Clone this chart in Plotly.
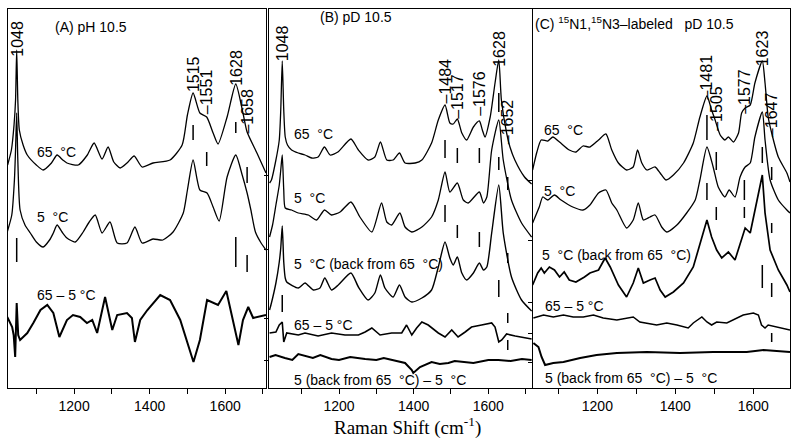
import plotly.graph_objects as go

# ---------------- Panel A : pH 10.5 ----------------
A65_x = [1024,1034,1041,1045,1048,1051,1055,1065,1076,1100,1118,1140,1155,1170,1181,1211,1235,1253,1274,1290,1305,1322,1340,1359,1380,1409,1454,1486,1500,1515,1533,1551,1568,1581,1605,1628,1647,1658,1684,1708]
A65_y = [223,238,263,288,338,288,258,243,233,223,218,225,233,228,225,223,233,245,229,241,226,220,225,232,221,225,228,243,273,295,275,271,255,244,271,304,275,256,235,215]

A5_x = [1023,1035,1042,1045,1048,1051,1057,1070,1084,1100,1118,1135,1145,1155,1168,1181,1203,1224,1240,1256,1274,1295,1314,1340,1361,1380,1409,1435,1462,1489,1500,1515,1533,1552,1568,1584,1605,1628,1645,1658,1668,1680,1695,1708]
A5_y = [156,173,208,238,275,228,178,163,155,146,141,148,155,163,156,150,146,156,166,173,155,166,145,145,161,145,149,148,156,175,198,228,198,195,181,167,211,233,213,195,178,156,145,138]

Adiff_x = [1023,1036,1040,1044,1048,1052,1057,1076,1092,1111,1129,1145,1161,1181,1197,1216,1234,1248,1261,1282,1301,1314,1340,1353,1361,1375,1394,1428,1454,1481,1516,1533,1552,1568,1581,1603,1619,1635,1647,1661,1674,1708]
Adiff_y = [71,61,53,31,85,53,48,55,65,78,83,75,51,68,73,71,65,68,55,91,58,73,75,70,46,68,78,93,88,68,26,48,88,85,83,97,71,43,68,81,70,73]

# ---------------- Panel B : pD 10.5 ----------------
B65_x = [1014,1019,1031,1040,1044,1048,1052,1056,1062,1073,1091,1109,1127,1144,1161,1176,1197,1232,1252,1278,1296,1311,1328,1345,1362,1377,1404,1422,1448,1466,1484,1497,1506,1517,1529,1542,1560,1576,1584,1591,1605,1618,1628,1635,1649,1658,1671,1697,1716]
B65_y = [205,208,228,248,278,327,278,251,243,238,235,233,230,231,241,233,236,249,238,228,231,246,228,228,235,225,225,228,245,268,283,265,264,269,255,248,261,267,258,251,271,305,328,288,255,241,228,211,204]

B5_x = [1014,1022,1031,1040,1044,1048,1052,1056,1073,1091,1118,1140,1161,1180,1203,1232,1256,1288,1314,1328,1341,1363,1377,1395,1422,1448,1466,1484,1497,1517,1533,1546,1576,1587,1596,1609,1628,1640,1662,1689,1716]
B5_y = [151,163,183,203,218,233,198,180,178,175,173,168,178,173,176,186,171,156,185,166,163,175,161,156,161,171,188,216,196,205,188,185,196,185,191,238,268,228,188,165,151]

B5b_x = [1014,1019,1031,1040,1044,1048,1052,1056,1060,1091,1109,1131,1149,1162,1180,1198,1232,1252,1278,1296,1311,1323,1345,1362,1377,1395,1422,1448,1466,1484,1497,1506,1517,1529,1542,1560,1576,1587,1596,1609,1628,1640,1662,1689,1716]
B5b_y = [78,85,105,126,140,162,126,110,106,100,105,98,100,110,98,103,115,101,88,95,113,100,91,103,91,86,90,98,121,146,130,123,131,115,108,115,125,118,121,155,203,155,111,88,77]

Bdiff_x = [1014,1031,1040,1048,1052,1060,1091,1109,1144,1180,1216,1252,1270,1288,1310,1341,1368,1381,1395,1408,1422,1439,1466,1484,1502,1519,1538,1555,1582,1609,1618,1628,1636,1649,1672,1716]
Bdiff_y = [55,56,63,66,46,55,53,55,52,55,53,53,56,60,53,55,55,63,53,60,66,63,55,51,58,51,56,61,63,65,61,46,48,54,52,49]

Bdiff2_x = [1014,1030,1055,1075,1091,1109,1130,1150,1180,1200,1230,1270,1300,1320,1341,1377,1395,1399,1417,1448,1470,1493,1510,1538,1560,1600,1627,1660,1690,1716]
Bdiff2_y = [31,33,30,28,34,32,30,33,29,28,31,29,28,30,28,25,18,15,21,26,24,25,27,26,25,28,28,27,29,28]

# ---------------- Panel C : 15N1,15N3-labeled pD 10.5 ----------------
C65_x = [1034,1045,1056,1073,1086,1103,1128,1145,1163,1181,1203,1222,1237,1254,1275,1292,1303,1314,1327,1348,1361,1376,1395,1421,1446,1463,1481,1493,1502,1515,1527,1536,1549,1562,1570,1579,1592,1604,1623,1630,1638,1647,1664,1686,1694]
C65_y = [218,236,248,247,251,246,238,236,242,241,248,254,238,225,218,221,238,225,218,221,215,208,213,225,245,271,292,278,268,253,248,251,246,255,275,280,283,305,327,305,271,255,231,215,206]

C5_x = [1034,1051,1060,1073,1090,1107,1137,1163,1181,1203,1222,1237,1250,1275,1292,1305,1318,1335,1348,1365,1378,1404,1429,1451,1463,1481,1497,1510,1527,1538,1553,1566,1579,1592,1604,1623,1630,1643,1664,1686,1694]
C5_y = [165,181,191,188,193,188,181,178,183,195,198,185,178,160,168,185,168,171,173,161,156,163,175,188,208,241,221,201,191,198,191,211,221,225,251,276,248,208,188,178,175]

C5b_x = [1034,1047,1056,1064,1077,1090,1103,1115,1128,1145,1167,1181,1203,1220,1233,1254,1275,1292,1305,1318,1335,1348,1361,1374,1395,1421,1446,1463,1481,1493,1506,1519,1536,1553,1566,1579,1592,1604,1623,1630,1643,1664,1686,1694]
C5b_y = [103,115,120,115,121,118,111,116,108,106,111,115,118,130,121,103,91,105,120,105,108,110,98,91,96,105,121,145,168,151,138,130,136,128,145,160,155,178,213,175,138,118,103,96]

Cdiff_x = [1036,1062,1087,1113,1138,1164,1190,1215,1250,1292,1309,1327,1352,1378,1404,1433,1446,1468,1481,1493,1506,1532,1557,1574,1600,1613,1621,1630,1638,1660,1694]
Cdiff_y = [70,73,71,73,71,71,73,70,68,71,66,65,63,65,63,60,65,71,66,63,66,65,70,73,75,73,63,60,63,61,58]

Cdiff2_x = [1036,1049,1057,1066,1087,1113,1156,1198,1250,1327,1412,1497,1583,1626,1694]
Cdiff2_y = [45,41,31,23,25,26,30,33,35,36,35,36,36,38,36]

# ---------------- peak labels and marker bars ----------------
A_lab = ["1048", "1515", "\u20131551", "1628", "\u20131658"]
A_lab_x = [1048, 1515, 1551, 1628, 1658]
A_lab_y = [329, 294, 272, 300, 252]
A_bar_x = [1515, 1551, 1628, 1658, 1048, 1628, 1658]
A_bar_lo = [248, 222, 255, 205, 126, 121, 116]
A_bar_hi = [263, 236, 266, 221, 150, 151, 133]

B_lab = ["1048", "\u20131484", "\u20131517", "\u20131576", "1628", "\u20131652"]
B_lab_x = [1048, 1484, 1517, 1576, 1628, 1652]
B_lab_y = [325, 282, 267, 270, 319, 242]
B_bar_x = [1048, 1484, 1484, 1517, 1517, 1576, 1576, 1628, 1628, 1628, 1652, 1652, 1652, 1652]
B_bar_lo = [76, 230, 166, 225, 150, 225, 141, 276, 218, 91, 198, 125, 65, 38]
B_bar_hi = [93, 248, 183, 240, 163, 240, 156, 295, 231, 108, 211, 135, 75, 48]

C_lab = ["\u20131481", "\u20131505", "\u20131577", "1623", "\u20131647"]
C_lab_x = [1481, 1505, 1577, 1623, 1647]
C_lab_y = [287, 255, 272, 320, 249]
C_bar_x = [1481, 1481, 1505, 1505, 1577, 1577, 1623, 1623, 1647, 1647, 1647, 1647]
C_bar_lo = [248, 188, 218, 168, 188, 170, 225, 100, 208, 155, 91, 46]
C_bar_hi = [273, 205, 236, 181, 208, 181, 241, 123, 221, 165, 105, 55]

major_ticks = [1200, 1400, 1600]
minor_ticks = [1100, 1300, 1500, 1700]

SANS = "Liberation Sans, Arial, Helvetica"

fig = go.Figure()

def spec(x, y, xa, ya, shape="spline", width=1.3):
    fig.add_trace(go.Scatter(x=x, y=y, xaxis=xa, yaxis=ya, mode="lines",
                             line=dict(color="black", width=width, shape=shape, smoothing=0.6),
                             showlegend=False, hoverinfo="skip"))

def bars(bx, lo, hi, xa, ya):
    xs, ys = [], []
    for x, a, b in zip(bx, lo, hi):
        xs += [x, x, None]
        ys += [a, b, None]
    fig.add_trace(go.Scatter(x=xs, y=ys, xaxis=xa, yaxis=ya, mode="lines",
                             line=dict(color="black", width=1.5),
                             showlegend=False, hoverinfo="skip"))

spec(A65_x, A65_y, "x", "y")
spec(A5_x, A5_y, "x", "y")
spec(Adiff_x, Adiff_y, "x", "y", shape="linear", width=2.0)
bars(A_bar_x, A_bar_lo, A_bar_hi, "x", "y")

spec(B65_x, B65_y, "x2", "y2")
spec(B5_x, B5_y, "x2", "y2")
spec(B5b_x, B5b_y, "x2", "y2", width=1.4)
spec(Bdiff_x, Bdiff_y, "x2", "y2", shape="linear", width=1.6)
spec(Bdiff2_x, Bdiff2_y, "x2", "y2", shape="linear", width=2.0)
bars(B_bar_x, B_bar_lo, B_bar_hi, "x2", "y2")

spec(C65_x, C65_y, "x3", "y3")
spec(C5_x, C5_y, "x3", "y3")
spec(C5b_x, C5b_y, "x3", "y3", shape="linear", width=1.7)
spec(Cdiff_x, Cdiff_y, "x3", "y3", shape="linear", width=1.5)
spec(Cdiff2_x, Cdiff2_y, "x3", "y3", shape="linear", width=2.0)
bars(C_bar_x, C_bar_lo, C_bar_hi, "x3", "y3")

ann = []
def rot_labels(labels, xs, ys, xr, yr):
    for t, x, y in zip(labels, xs, ys):
        ann.append(dict(text=t, x=x, y=y, xref=xr, yref=yr, textangle=-90,
                        xanchor="center", yanchor="bottom", showarrow=False,
                        font=dict(family=SANS, size=16, color="black")))

rot_labels(A_lab, A_lab_x, A_lab_y, "x", "y")
rot_labels(B_lab, B_lab_x, B_lab_y, "x2", "y2")
rot_labels(C_lab, C_lab_x, C_lab_y, "x3", "y3")

def txt(t, x, y, xr, yr, size=14):
    ann.append(dict(text=t, x=x, y=y, xref=xr, yref=yr, xanchor="left", yanchor="middle",
                    showarrow=False, font=dict(family=SANS, size=size, color="black")))

txt("(A) pH 10.5", 1144, 361, "x", "y")
txt("65  \u00b0C", 1097, 236, "x", "y")
txt("5  \u00b0C", 1097, 171, "x", "y")
txt("65 \u2013 5 \u00b0C", 1097, 93, "x", "y")

txt("(B) pD 10.5", 1144, 371, "x2", "y2")
txt("65  \u00b0C", 1074, 254, "x2", "y2")
txt("5  \u00b0C", 1074, 190, "x2", "y2")
txt("5  \u00b0C (back from 65  \u00b0C)", 1074, 124, "x2", "y2")
txt("65 \u2013 5 \u00b0C", 1074, 63, "x2", "y2")
txt("5 (back from 65  \u00b0C) \u2013 5  \u00b0C", 1074, 8, "x2", "y2")

txt("(C) <sup>15</sup>N1,<sup>15</sup>N3\u2013labeled   pD 10.5", 1035, 365, "x3", "y3")
txt("65  \u00b0C", 1057, 258, "x3", "y3")
txt("5  \u00b0C", 1057, 197, "x3", "y3")
txt("5  \u00b0C (back from 65  \u00b0C)", 1053, 133, "x3", "y3")
txt("65 \u2013 5 \u00b0C", 1061, 82, "x3", "y3")
txt("5 (back from 65  \u00b0C) \u2013 5  \u00b0C", 1061, 10, "x3", "y3")

ann.append(dict(text="Raman Shift (cm<sup>-1</sup>)", x=407/800, y=1-426/442, xref="paper", yref="paper",
                xanchor="center", yanchor="middle", showarrow=False,
                font=dict(family="Liberation Serif, Times New Roman, serif", size=19, color="black")))

def xax(domain, rng):
    return dict(domain=domain, range=rng, showline=True, mirror=True, linecolor="black", linewidth=1.3,
                ticks="outside", ticklen=5, tickwidth=1.3, tickcolor="black",
                tickmode="array", tickvals=major_ticks, showgrid=False, zeroline=False,
                minor=dict(tickmode="array", tickvals=minor_ticks, ticks="outside", ticklen=5,
                           tickwidth=1.3, tickcolor="black", showgrid=False),
                tickfont=dict(family=SANS, size=14, color="black"))

YD = [1-388/442, 1-9/442]
def yax(anchor, tv):
    d = dict(domain=YD, range=[0, 379], anchor=anchor, showline=True, mirror=True,
             linecolor="black", linewidth=1.3, showgrid=False, zeroline=False,
             showticklabels=False)
    if tv:
        d.update(ticks="outside", ticklen=4, tickwidth=1.1, tickcolor="black",
                 tickmode="array", tickvals=tv)
    else:
        d.update(ticks="")
    return d

fig.update_layout(
    width=800, height=442, margin=dict(l=0, r=0, t=0, b=0),
    paper_bgcolor="white", plot_bgcolor="white",
    xaxis=xax([8/800, 266/800], [1025, 1708]),
    xaxis2=xax([269/800, 532/800], [1012.5, 1717]),
    xaxis3=xax([533/800, 790/800], [1035, 1694]),
    yaxis=yax("x", None),
    yaxis2=yax("x2", [213, 139, 70, 28]),
    yaxis3=yax("x3", [208, 148, 86, 55, 26]),
    annotations=ann,
)
fig.update_layout(xaxis2=dict(anchor="y2"), xaxis3=dict(anchor="y3"))

fig.write_html("out.html", config={"displayModeBar": False},
               post_script="document.body.style.margin='0px';document.body.style.padding='0px';")
